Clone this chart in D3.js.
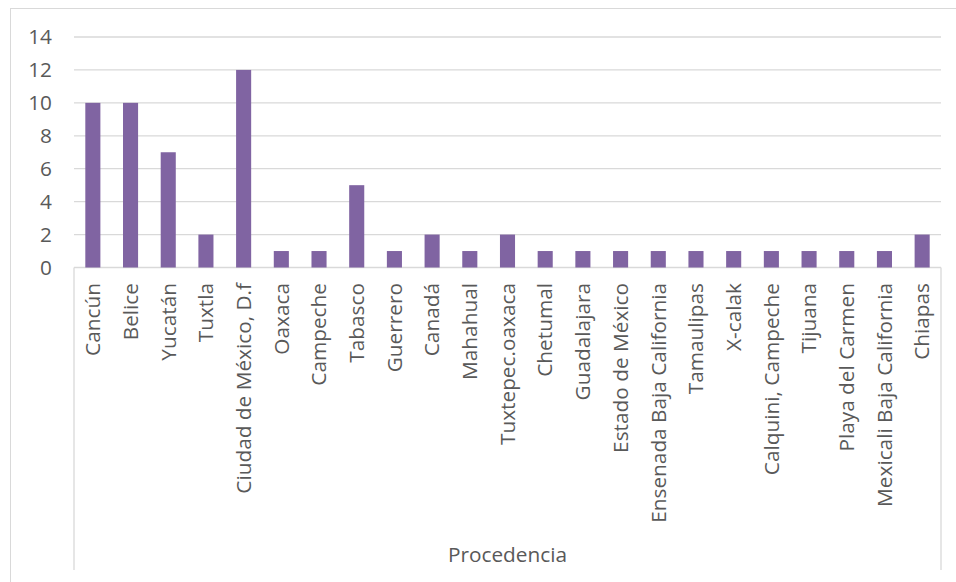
<!DOCTYPE html>
<html>
<head>
<meta charset="utf-8">
<script src="https://cdn.jsdelivr.net/npm/d3@7"></script>
<style>
  body { margin: 0; background: #fff; }
  text { font-family: "Open Sans", sans-serif; fill: #595959; }
</style>
</head>
<body>
<script>
// Datos del gráfico
const categorias = ['Cancún', 'Belice', 'Yucatán', 'Tuxtla', 'Ciudad de México, D.f', 'Oaxaca',
  'Campeche', 'Tabasco', 'Guerrero', 'Canadá', 'Mahahual', 'Tuxtepec.oaxaca', 'Chetumal',
  'Guadalajara', 'Estado de México', 'Ensenada Baja California', 'Tamaulipas', 'X-calak',
  'Calquini, Campeche', 'Tijuana', 'Playa del Carmen', 'Mexicali Baja California', 'Chiapas'];
const valores = [10, 10, 7, 2, 12, 1, 1, 5, 1, 2, 1, 2, 1, 1, 1, 1, 1, 1, 1, 1, 1, 1, 2];
const ticksY = [0, 2, 4, 6, 8, 10, 12, 14];
const tituloEje = 'Procedencia';

const width = 956, height = 582;
const margen = { left: 74, right: 15, top: 37, bottom: 315 };
const tamLetra = '20.8px';

const svg = d3.select('body').append('svg')
  .attr('width', width)
  .attr('height', height);

// Borde exterior del gráfico
svg.append('rect')
  .attr('x', 10.5).attr('y', 8.5)
  .attr('width', 960).attr('height', 600)
  .attr('fill', 'none')
  .attr('stroke', '#d9d9d9');

const x = d3.scaleBand()
  .domain(categorias)
  .range([margen.left, width - margen.right])
  .paddingInner(0.6)
  .paddingOuter(0.3);

const y = d3.scaleLinear()
  .domain([0, 14])
  .range([height - margen.bottom + 0.5, margen.top]);

// Líneas de cuadrícula
svg.append('g')
  .selectAll('line')
  .data(ticksY)
  .enter().append('line')
  .attr('x1', margen.left)
  .attr('x2', width - margen.right)
  .attr('y1', d => y(d))
  .attr('y2', d => y(d))
  .attr('stroke', '#d9d9d9')
  .attr('stroke-width', 1.3);

// Etiquetas del eje Y
svg.append('g')
  .selectAll('text')
  .data(ticksY)
  .enter().append('text')
  .attr('x', 52)
  .attr('y', d => y(d))
  .attr('dy', '0.35em')
  .attr('text-anchor', 'end')
  .style('font-size', tamLetra)
  .text(d => d);

// Barras
svg.append('g')
  .selectAll('rect')
  .data(valores)
  .enter().append('rect')
  .attr('x', (d, i) => x(categorias[i]))
  .attr('width', x.bandwidth())
  .attr('y', d => y(d))
  .attr('height', d => y(0) - y(d))
  .attr('fill', '#8064a2');

// Líneas verticales del eje de categorías
svg.append('g')
  .selectAll('line')
  .data([margen.left, width - margen.right])
  .enter().append('line')
  .attr('x1', d => d).attr('x2', d => d)
  .attr('y1', y(0)).attr('y2', 570)
  .attr('stroke', '#d9d9d9')
  .attr('stroke-width', 1.3);

// Etiquetas de categorías (rotadas)
svg.append('g')
  .selectAll('text')
  .data(categorias)
  .enter().append('text')
  .attr('transform', d => `translate(${x(d) + x.bandwidth() / 2},283) rotate(-90)`)
  .attr('dy', '0.35em')
  .attr('text-anchor', 'end')
  .style('font-size', tamLetra)
  .text(d => d);

// Título del eje
svg.append('text')
  .attr('x', (margen.left + width - margen.right) / 2)
  .attr('y', 562)
  .attr('text-anchor', 'middle')
  .style('font-size', tamLetra)
  .text(tituloEje);
</script>
</body>
</html>
